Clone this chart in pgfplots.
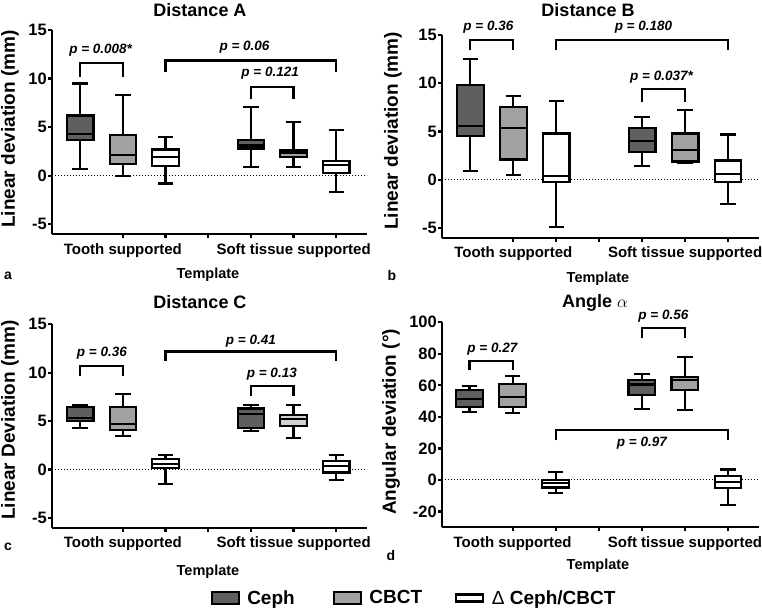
\documentclass[border=0pt]{standalone}
\usepackage{fontspec}
\setmainfont{Liberation Sans}
\usepackage{pgfplots}
\pgfplotsset{compat=1.18}
\usepgfplotslibrary{statistics}

\definecolor{ceph}{HTML}{5F5F5F}
\definecolor{cbct}{HTML}{A2A2A2}
\definecolor{cbctlt}{HTML}{D2D2D2}

\newcommand{\fs}[1]{\fontsize{#1}{#1}\selectfont\bfseries}

\pgfplotsset{
  panel/.style={
    scale only axis, width=315pt, height=204pt,
    anchor=south west,
    axis lines*=left, clip=false,
    xmin=0.34, xmax=7.72,
    xtick={2,3,4,5,6,7},
    xticklabels={Tooth supported,{},{},{},Soft tissue supported,{}},
    axis line style={line width=2.2pt},
    tick style={line width=2.2pt, black},
    tick align=outside, major tick length=4pt,
    yticklabel style={font=\fs{16.5}, inner sep=1pt},
    xticklabel style={font=\fs{15}, inner sep=2pt, yshift=-3pt},
    /pgf/number format/assume math mode=true,
  },
  bx/.style={draw=black, line width=2.2pt, solid,
    boxplot/draw direction=y,
    boxplot/box extend=0.62, boxplot/whisker extend=0.36},
}
\tikzset{
  pv/.style={font=\fs{13.5}\itshape, inner sep=0pt},
  br/.style={line width=2.2pt},
  zero/.style={line width=1.2pt, dash pattern=on 1.2pt off 1.8pt},
}

\begin{document}
\begin{tikzpicture}[x=1pt,y=1pt]
\useasboundingbox (0,0) rectangle (762,610);

% ---- a: Distance A
\begin{axis}[panel, at={(52pt,376pt)}, ymin=-6, ymax=15, ytick={-5,0,5,10,15}]
\draw[zero] (axis cs:0.34,0) -- (axis cs:7.72,0);
\addplot[bx, fill=ceph, boxplot prepared={draw position=1, lower whisker=0.7, lower quartile=3.7, median=4.3, upper quartile=6.2, upper whisker=9.5}] coordinates {};
\addplot[bx, fill=cbct, boxplot prepared={draw position=2, lower whisker=0, lower quartile=1.2, median=2.1, upper quartile=4.2, upper whisker=8.3}] coordinates {};
\addplot[bx, fill=white, boxplot prepared={draw position=3, lower whisker=-0.8, lower quartile=1.0, median=1.9, upper quartile=2.7, upper whisker=4.0}] coordinates {};
\addplot[bx, fill=ceph, boxplot prepared={draw position=5, lower whisker=0.9, lower quartile=2.8, median=3.1, upper quartile=3.7, upper whisker=7.1}] coordinates {};
\addplot[bx, fill=cbct, boxplot prepared={draw position=6, lower whisker=0.9, lower quartile=1.9, median=2.3, upper quartile=2.6, upper whisker=5.5}] coordinates {};
\addplot[bx, fill=white, boxplot prepared={draw position=7, lower whisker=-1.7, lower quartile=0.3, median=1.1, upper quartile=1.5, upper whisker=4.7}] coordinates {};
\draw[br] (axis cs:1,10.2) -- (axis cs:1,11.6) -- (axis cs:2,11.6) -- (axis cs:2,10.2);
\node[pv] at (axis cs:1.48,12.9) {p = 0.008*};
\draw[br] (axis cs:3,10.65) -- (axis cs:3,11.85) -- (axis cs:7,11.85) -- (axis cs:7,10.65);
\node[pv] at (axis cs:4.85,13.2) {p = 0.06};
\draw[br] (axis cs:5,7.85) -- (axis cs:5,9.1) -- (axis cs:6,9.1) -- (axis cs:6,7.85);
\node[pv] at (axis cs:5.45,10.55) {p = 0.121};
\end{axis}

% ---- b: Distance B
\begin{axis}[panel, at={(442pt,372.3pt)}, height=202.7pt, width=317pt, ymin=-6, ymax=15, ytick={-5,0,5,10,15}]
\draw[zero] (axis cs:0.34,0) -- (axis cs:7.72,0);
\addplot[bx, fill=ceph, boxplot prepared={draw position=1, lower whisker=0.9, lower quartile=4.5, median=5.6, upper quartile=9.8, upper whisker=12.5}] coordinates {};
\addplot[bx, fill=cbct, boxplot prepared={draw position=2, lower whisker=0.5, lower quartile=2.1, median=5.4, upper quartile=7.5, upper whisker=8.7}] coordinates {};
\addplot[bx, fill=white, boxplot prepared={draw position=3, lower whisker=-4.9, lower quartile=-0.2, median=0.4, upper quartile=4.8, upper whisker=8.2}] coordinates {};
\addplot[bx, fill=ceph, boxplot prepared={draw position=5, lower whisker=1.4, lower quartile=2.9, median=4.0, upper quartile=5.4, upper whisker=6.5}] coordinates {};
\addplot[bx, fill=cbct, boxplot prepared={draw position=6, lower whisker=1.7, lower quartile=1.9, median=3.1, upper quartile=4.8, upper whisker=7.2}] coordinates {};
\addplot[bx, fill=white, boxplot prepared={draw position=7, lower whisker=-2.5, lower quartile=-0.2, median=0.6, upper quartile=2.0, upper whisker=4.7}] coordinates {};
\draw[br] (axis cs:1,13.4) -- (axis cs:1,14.5) -- (axis cs:2,14.5) -- (axis cs:2,13.4);
\node[pv] at (axis cs:1.42,15.8) {p = 0.36};
\draw[br] (axis cs:3,13.4) -- (axis cs:3,14.5) -- (axis cs:7,14.5) -- (axis cs:7,13.4);
\node[pv] at (axis cs:5.03,15.8) {p = 0.180};
\draw[br] (axis cs:5,8.1) -- (axis cs:5,9.4) -- (axis cs:6,9.4) -- (axis cs:6,8.1);
\node[pv] at (axis cs:5.45,10.6) {p = 0.037*};
\end{axis}

% ---- c: Distance C
\begin{axis}[panel, at={(52pt,82.3pt)}, height=203.4pt, ymin=-6, ymax=15, ytick={-5,0,5,10,15}]
\draw[zero] (axis cs:0.34,0) -- (axis cs:7.72,0);
\addplot[bx, fill=ceph, boxplot prepared={draw position=1, lower whisker=4.3, lower quartile=5.0, median=5.3, upper quartile=6.5, upper whisker=6.7}] coordinates {};
\addplot[bx, fill=cbct, boxplot prepared={draw position=2, lower whisker=3.5, lower quartile=4.1, median=4.7, upper quartile=6.5, upper whisker=7.8}] coordinates {};
\addplot[bx, fill=white, boxplot prepared={draw position=3, lower whisker=-1.5, lower quartile=0.2, median=0.6, upper quartile=1.1, upper whisker=1.5}] coordinates {};
\addplot[bx, fill=ceph, boxplot prepared={draw position=5, lower whisker=4.0, lower quartile=4.3, median=5.7, upper quartile=6.3, upper whisker=6.7}] coordinates {};
\addplot[bx, fill=cbctlt, boxplot prepared={draw position=6, lower whisker=3.3, lower quartile=4.5, median=5.2, upper quartile=5.6, upper whisker=6.7}] coordinates {};
\addplot[bx, fill=white, boxplot prepared={draw position=7, lower whisker=-1.1, lower quartile=-0.3, median=0.4, upper quartile=0.9, upper whisker=1.5}] coordinates {};
\draw[br] (axis cs:1,9.7) -- (axis cs:1,10.7) -- (axis cs:2,10.7) -- (axis cs:2,9.7);
\node[pv] at (axis cs:1.51,12.0) {p = 0.36};
\draw[br] (axis cs:3,11.2) -- (axis cs:3,12.2) -- (axis cs:7,12.2) -- (axis cs:7,11.2);
\node[pv] at (axis cs:5.0,13.3) {p = 0.41};
\draw[br] (axis cs:5,7.55) -- (axis cs:5,8.6) -- (axis cs:6,8.6) -- (axis cs:6,7.55);
\node[pv] at (axis cs:5.49,9.8) {p = 0.13};
\end{axis}

% ---- d: Angle alpha
\begin{axis}[panel, at={(442pt,82.7pt)}, height=205pt, width=317pt, xmin=0.36, ymin=-30, ymax=100, ytick={-20,0,20,40,60,80,100}]
\draw[zero, line width=1pt] (axis cs:0.36,0) -- (axis cs:7.72,0);
\addplot[bx, fill=ceph, boxplot prepared={draw position=1, lower whisker=43.1, lower quartile=46.3, median=51.4, upper quartile=56.9, upper whisker=59.7}] coordinates {};
\addplot[bx, fill=cbct, boxplot prepared={draw position=2, lower whisker=42.3, lower quartile=46.3, median=52.7, upper quartile=60.7, upper whisker=65.8}] coordinates {};
\addplot[bx, fill=white, boxplot prepared={draw position=3, lower whisker=-8.5, lower quartile=-4.7, median=-2.1, upper quartile=0.2, upper whisker=4.9}] coordinates {};
\addplot[bx, fill=ceph, boxplot prepared={draw position=5, lower whisker=45.0, lower quartile=54.1, median=60.5, upper quartile=63.3, upper whisker=67.1}] coordinates {};
\addplot[bx, fill=cbct, boxplot prepared={draw position=6, lower whisker=44.2, lower quartile=57.3, median=63.3, upper quartile=65.4, upper whisker=78.1}] coordinates {};
\addplot[bx, fill=white, boxplot prepared={draw position=7, lower whisker=-15.7, lower quartile=-5.1, median=-1.5, upper quartile=2.5, upper whisker=6.6}] coordinates {};
\draw[br] (axis cs:1,69.6) -- (axis cs:1,75.6) -- (axis cs:2,75.6) -- (axis cs:2,69.6);
\node[pv] at (axis cs:1.53,82.8) {p = 0.27};
\draw[br] (axis cs:5,89.8) -- (axis cs:5,96.2) -- (axis cs:6,96.2) -- (axis cs:6,89.8);
\node[pv] at (axis cs:5.5,103.6) {p = 0.56};
\draw[br] (axis cs:3,25.1) -- (axis cs:3,31.8) -- (axis cs:7,31.8) -- (axis cs:7,25.1);
\node[pv] at (axis cs:5.0,23.4) {p = 0.97};
\end{axis}

% ---- legend
\begin{axis}[hide axis, scale only axis, width=10pt, height=10pt, at={(414pt,12pt)}, anchor=center,
  xmin=0, xmax=1, ymin=0, ymax=1,
  legend style={at={(0.5,0.5)}, anchor=center, draw=none, fill=none,
    legend columns=3, font=\fs{19}, column sep=5.5pt,
    /tikz/column 2/.style={column sep=36pt},
    /tikz/column 4/.style={column sep=31pt}},
  legend cell align=left]
\addlegendimage{legend image code/.code={\draw[draw=black, line width=2.2pt, fill=ceph] (0pt,-6pt) rectangle (27pt,6pt);}}
\addlegendentry{Ceph}
\addlegendimage{legend image code/.code={\draw[draw=black, line width=2.2pt, fill=cbct] (0pt,-6pt) rectangle (27pt,6pt);}}
\addlegendentry{CBCT}
\addlegendimage{legend image code/.code={\draw[draw=black, line width=2.2pt, fill=white] (0pt,-3.5pt) rectangle (27pt,3.5pt);}}
\addlegendentry{{\mdseries Δ} Ceph/CBCT}
\end{axis}

% ---- titles and labels
\node[font=\fs{18}] at (200,600) {Distance A};
\node[font=\fs{18}] at (588,600) {Distance B};
\node[font=\fs{18}] at (200,308) {Distance C};
\node[font=\fs{18}] at (595,307) {Angle $\alpha$};

\node[font=\fs{19}, rotate=90] at (10,481) {Linear deviation (mm)};
\node[font=\fs{19}, rotate=90] at (393,479) {Linear deviation (mm)};
\node[font=\fs{19}, rotate=90] at (10,190) {Linear Deviation (mm)};
\node[font=\fs{19}, rotate=90] at (391,188) {Angular deviation (°)};

\node[font=\fs{14.5}] at (208,335) {Template};
\node[font=\fs{14.5}] at (598,331) {Template};
\node[font=\fs{14.5}] at (208,38) {Template};
\node[font=\fs{14.5}] at (598,44) {Template};

\node[font=\fs{14}] at (8,334) {a};
\node[font=\fs{14}] at (392,334) {b};
\node[font=\fs{14}] at (8,63) {c};
\node[font=\fs{14}] at (391,55) {d};
\end{tikzpicture}
\end{document}
